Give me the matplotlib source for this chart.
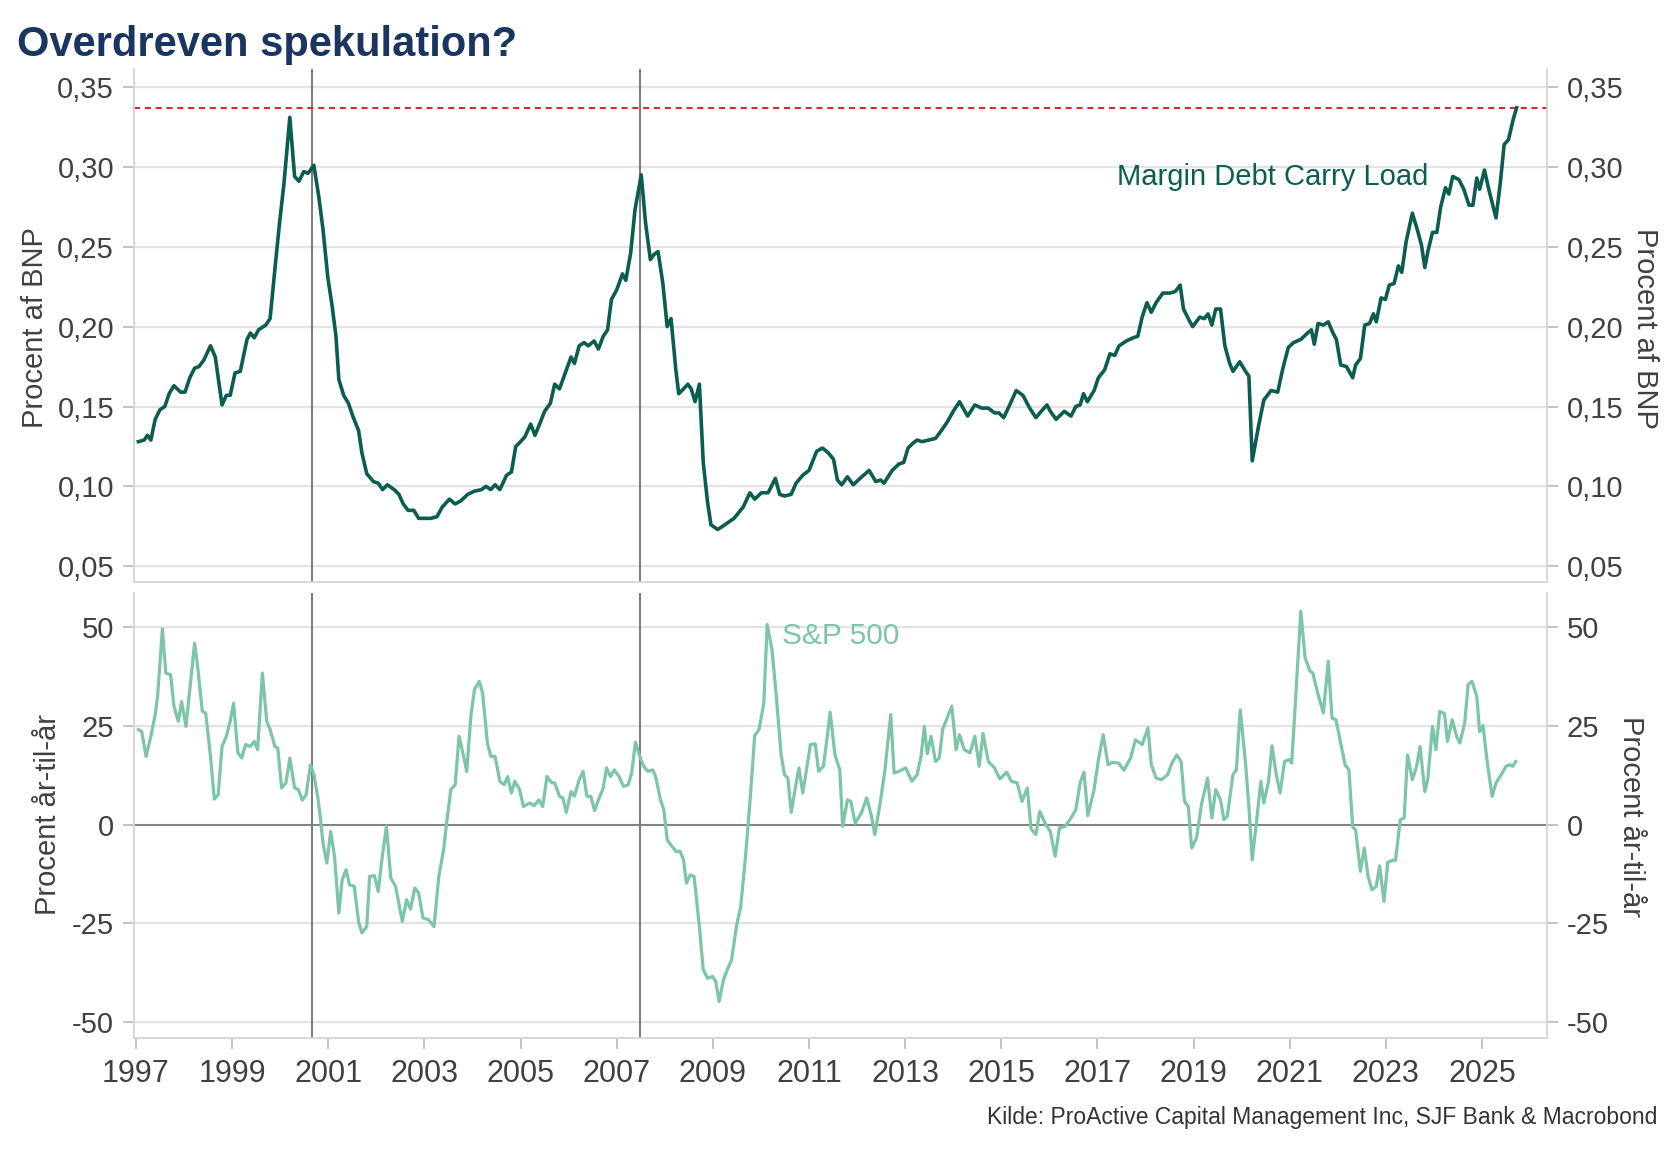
import matplotlib
matplotlib.use("Agg")
import matplotlib.pyplot as plt
from matplotlib.ticker import FuncFormatter

plt.rcParams['font.family'] = ['Liberation Sans', 'DejaVu Sans']
plt.rcParams['axes.unicode_minus'] = False

#==========================
# DATA
#==========================
margin_t = [1997.05, 1997.17, 1997.24, 1997.31, 1997.40, 1997.50, 1997.60, 1997.69, 1997.79, 1997.93,
            1998.02, 1998.12, 1998.22, 1998.31, 1998.41, 1998.55, 1998.65, 1998.79, 1998.88, 1998.96,
            1999.06, 1999.17, 1999.31, 1999.38, 1999.46, 1999.55, 1999.70, 1999.79, 1999.89, 1999.98,
            2000.08, 2000.20, 2000.30, 2000.39, 2000.49, 2000.58, 2000.70, 2000.80, 2000.89, 2000.99,
            2001.08, 2001.16, 2001.22, 2001.32, 2001.42, 2001.51, 2001.63, 2001.70, 2001.80, 2001.94,
            2002.04, 2002.13, 2002.23, 2002.37, 2002.47, 2002.56, 2002.66, 2002.78, 2002.88, 2002.99,
            2003.13, 2003.26, 2003.37, 2003.52, 2003.64, 2003.76, 2003.90, 2004.04, 2004.19, 2004.28,
            2004.38, 2004.47, 2004.57, 2004.71, 2004.81, 2004.90, 2005.00, 2005.09, 2005.21, 2005.30,
            2005.41, 2005.50, 2005.62, 2005.71, 2005.81, 2005.93, 2006.05, 2006.12, 2006.22, 2006.32,
            2006.41, 2006.53, 2006.62, 2006.72, 2006.81, 2006.89, 2007.00, 2007.12, 2007.19, 2007.29,
            2007.38, 2007.51, 2007.60, 2007.70, 2007.77, 2007.86, 2007.96, 2008.05, 2008.13, 2008.23,
            2008.29, 2008.39, 2008.48, 2008.55, 2008.63, 2008.72, 2008.80, 2008.89, 2008.96, 2009.10,
            2009.25, 2009.44, 2009.63, 2009.77, 2009.87, 2010.01, 2010.15, 2010.30, 2010.39, 2010.49,
            2010.63, 2010.73, 2010.87, 2011.00, 2011.16, 2011.28, 2011.40, 2011.51, 2011.59, 2011.68,
            2011.80, 2011.92, 2012.06, 2012.25, 2012.39, 2012.49, 2012.56, 2012.73, 2012.87, 2012.97,
            2013.06, 2013.16, 2013.25, 2013.35, 2013.49, 2013.63, 2013.73, 2013.87, 2014.00, 2014.13,
            2014.30, 2014.45, 2014.59, 2014.73, 2014.86, 2014.95, 2015.05, 2015.19, 2015.31, 2015.45,
            2015.59, 2015.72, 2015.83, 2015.95, 2016.02, 2016.14, 2016.31, 2016.45, 2016.55, 2016.64,
            2016.71, 2016.79, 2016.93, 2017.02, 2017.15, 2017.26, 2017.36, 2017.45, 2017.60, 2017.74,
            2017.84, 2017.93, 2018.03, 2018.12, 2018.22, 2018.36, 2018.51, 2018.62, 2018.72, 2018.79,
            2018.89, 2018.98, 2019.13, 2019.22, 2019.30, 2019.38, 2019.46, 2019.56, 2019.65, 2019.75,
            2019.82, 2019.96, 2020.08, 2020.15, 2020.22, 2020.34, 2020.46, 2020.61, 2020.75, 2020.85,
            2020.97, 2021.08, 2021.23, 2021.37, 2021.45, 2021.51, 2021.59, 2021.70, 2021.80, 2021.90,
            2021.97, 2022.06, 2022.18, 2022.31, 2022.37, 2022.47, 2022.56, 2022.66, 2022.74, 2022.80,
            2022.90, 2022.99, 2023.07, 2023.17, 2023.26, 2023.33, 2023.42, 2023.55, 2023.66, 2023.74,
            2023.81, 2023.88, 2023.97, 2024.06, 2024.14, 2024.24, 2024.31, 2024.39, 2024.52, 2024.62,
            2024.73, 2024.81, 2024.89, 2024.95, 2025.05, 2025.14, 2025.29, 2025.38, 2025.46, 2025.55,
            2025.65, 2025.72]
margin_v = [0.128, 0.129, 0.132, 0.129, 0.142, 0.148, 0.150, 0.158, 0.163, 0.159,
            0.159, 0.168, 0.174, 0.175, 0.179, 0.188, 0.181, 0.151, 0.157, 0.157,
            0.171, 0.172, 0.192, 0.196, 0.193, 0.198, 0.201, 0.205, 0.236, 0.263,
            0.290, 0.331, 0.294, 0.291, 0.297, 0.296, 0.301, 0.282, 0.261, 0.231,
            0.213, 0.194, 0.167, 0.157, 0.152, 0.144, 0.135, 0.121, 0.108, 0.103,
            0.102, 0.098, 0.101, 0.098, 0.095, 0.089, 0.085, 0.085, 0.080, 0.080,
            0.080, 0.081, 0.087, 0.092, 0.089, 0.091, 0.095, 0.097, 0.098, 0.100,
            0.098, 0.101, 0.098, 0.107, 0.109, 0.125, 0.128, 0.131, 0.139, 0.132,
            0.140, 0.147, 0.152, 0.164, 0.161, 0.171, 0.181, 0.177, 0.188, 0.190,
            0.188, 0.191, 0.186, 0.194, 0.198, 0.217, 0.223, 0.233, 0.229, 0.246,
            0.273, 0.295, 0.265, 0.242, 0.245, 0.247, 0.227, 0.200, 0.205, 0.173,
            0.158, 0.161, 0.164, 0.161, 0.153, 0.164, 0.115, 0.090, 0.076, 0.073,
            0.076, 0.080, 0.087, 0.096, 0.092, 0.096, 0.096, 0.105, 0.095, 0.094,
            0.095, 0.102, 0.107, 0.110, 0.122, 0.124, 0.121, 0.117, 0.104, 0.101,
            0.106, 0.101, 0.105, 0.110, 0.103, 0.104, 0.102, 0.110, 0.114, 0.115,
            0.124, 0.127, 0.129, 0.128, 0.129, 0.130, 0.134, 0.140, 0.147, 0.153,
            0.144, 0.151, 0.149, 0.149, 0.146, 0.146, 0.143, 0.152, 0.160, 0.157,
            0.149, 0.143, 0.147, 0.151, 0.147, 0.142, 0.147, 0.144, 0.150, 0.151,
            0.158, 0.153, 0.160, 0.168, 0.173, 0.183, 0.182, 0.188, 0.191, 0.193,
            0.194, 0.206, 0.215, 0.209, 0.215, 0.221, 0.221, 0.222, 0.226, 0.211,
            0.205, 0.200, 0.206, 0.205, 0.208, 0.201, 0.211, 0.211, 0.188, 0.177,
            0.172, 0.178, 0.172, 0.169, 0.116, 0.136, 0.154, 0.160, 0.159, 0.173,
            0.187, 0.190, 0.192, 0.196, 0.198, 0.189, 0.202, 0.201, 0.203, 0.196,
            0.192, 0.176, 0.175, 0.168, 0.176, 0.180, 0.201, 0.202, 0.208, 0.203,
            0.218, 0.217, 0.226, 0.227, 0.238, 0.234, 0.253, 0.271, 0.260, 0.251,
            0.237, 0.248, 0.259, 0.259, 0.275, 0.287, 0.283, 0.294, 0.292, 0.286,
            0.276, 0.276, 0.293, 0.286, 0.298, 0.286, 0.268, 0.290, 0.314, 0.317,
            0.330, 0.337]

spx_t = [1997.05, 1997.12, 1997.21, 1997.31, 1997.40, 1997.45, 1997.55, 1997.62, 1997.72, 1997.79,
         1997.88, 1997.95, 1998.04, 1998.12, 1998.22, 1998.29, 1998.38, 1998.45, 1998.55, 1998.63,
         1998.71, 1998.79, 1998.88, 1998.96, 1999.03, 1999.12, 1999.20, 1999.28, 1999.38, 1999.46,
         1999.53, 1999.63, 1999.72, 1999.79, 1999.89, 1999.95, 2000.03, 2000.12, 2000.20, 2000.30,
         2000.38, 2000.46, 2000.54, 2000.63, 2000.70, 2000.78, 2000.84, 2000.89, 2000.97, 2001.05,
         2001.13, 2001.22, 2001.29, 2001.37, 2001.44, 2001.54, 2001.63, 2001.70, 2001.80, 2001.86,
         2001.96, 2002.04, 2002.11, 2002.21, 2002.30, 2002.40, 2002.54, 2002.63, 2002.71, 2002.80,
         2002.88, 2002.97, 2003.09, 2003.20, 2003.30, 2003.40, 2003.47, 2003.55, 2003.64, 2003.72,
         2003.80, 2003.88, 2003.97, 2004.04, 2004.14, 2004.21, 2004.31, 2004.38, 2004.47, 2004.57,
         2004.66, 2004.73, 2004.81, 2004.88, 2004.98, 2005.06, 2005.19, 2005.28, 2005.38, 2005.46,
         2005.55, 2005.65, 2005.71, 2005.81, 2005.88, 2005.95, 2006.05, 2006.12, 2006.22, 2006.30,
         2006.38, 2006.46, 2006.54, 2006.62, 2006.72, 2006.79, 2006.87, 2006.95, 2007.05, 2007.14,
         2007.24, 2007.31, 2007.39, 2007.48, 2007.56, 2007.65, 2007.75, 2007.81, 2007.91, 2007.98,
         2008.05, 2008.15, 2008.24, 2008.32, 2008.39, 2008.45, 2008.53, 2008.61, 2008.72, 2008.80,
         2008.89, 2008.99, 2009.06, 2009.13, 2009.22, 2009.30, 2009.39, 2009.49, 2009.58, 2009.68,
         2009.77, 2009.87, 2009.96, 2010.06, 2010.13, 2010.23, 2010.32, 2010.42, 2010.49, 2010.56,
         2010.63, 2010.71, 2010.79, 2010.87, 2010.97, 2011.03, 2011.13, 2011.20, 2011.30, 2011.38,
         2011.44, 2011.54, 2011.64, 2011.70, 2011.80, 2011.87, 2011.96, 2012.09, 2012.20, 2012.30,
         2012.37, 2012.49, 2012.58, 2012.70, 2012.77, 2012.87, 2013.01, 2013.14, 2013.25, 2013.33,
         2013.40, 2013.46, 2013.54, 2013.63, 2013.71, 2013.78, 2013.90, 2013.97, 2014.06, 2014.13,
         2014.23, 2014.35, 2014.45, 2014.54, 2014.62, 2014.73, 2014.86, 2014.97, 2015.11, 2015.21,
         2015.33, 2015.43, 2015.54, 2015.62, 2015.72, 2015.80, 2015.91, 2016.02, 2016.12, 2016.21,
         2016.33, 2016.45, 2016.55, 2016.64, 2016.72, 2016.80, 2016.93, 2017.02, 2017.12, 2017.22,
         2017.31, 2017.44, 2017.55, 2017.69, 2017.79, 2017.93, 2018.05, 2018.12, 2018.22, 2018.33,
         2018.46, 2018.55, 2018.65, 2018.74, 2018.81, 2018.89, 2018.96, 2019.06, 2019.17, 2019.29,
         2019.38, 2019.46, 2019.56, 2019.63, 2019.70, 2019.82, 2019.89, 2019.97, 2020.08, 2020.15,
         2020.22, 2020.32, 2020.40, 2020.46, 2020.56, 2020.63, 2020.72, 2020.80, 2020.89, 2020.99,
         2021.04, 2021.10, 2021.23, 2021.32, 2021.42, 2021.48, 2021.58, 2021.70, 2021.80, 2021.88,
         2021.96, 2022.06, 2022.15, 2022.23, 2022.31, 2022.37, 2022.47, 2022.55, 2022.63, 2022.71,
         2022.80, 2022.87, 2022.96, 2023.04, 2023.14, 2023.20, 2023.30, 2023.38, 2023.45, 2023.55,
         2023.64, 2023.71, 2023.81, 2023.87, 2023.97, 2024.04, 2024.12, 2024.22, 2024.28, 2024.38,
         2024.47, 2024.54, 2024.64, 2024.71, 2024.79, 2024.89, 2024.95, 2025.02, 2025.11, 2025.21,
         2025.29, 2025.40, 2025.50, 2025.57, 2025.64, 2025.70]
spx_v = [24.1, 23.6, 17.3, 22.4, 27.9, 32.5, 49.6, 38.4, 38.0, 30.0,
         26.2, 31.2, 24.9, 34.2, 46.0, 39.3, 28.7, 28.3, 17.3, 6.5,
         7.6, 19.8, 22.4, 26.2, 30.8, 18.2, 16.9, 20.3, 19.8, 21.1,
         19.0, 38.4, 26.2, 24.1, 19.8, 19.4, 9.3, 10.6, 16.9, 9.3,
         8.9, 6.2, 7.6, 15.2, 12.7, 7.2, 1.3, -4.6, -9.7, -1.7,
         -8.0, -22.4, -13.9, -11.4, -15.2, -15.6, -24.5, -27.4, -25.8, -13.1,
         -12.9, -16.9, -9.3, -0.4, -13.5, -15.6, -24.5, -19.0, -21.4, -16.0,
         -17.3, -23.6, -24.1, -25.8, -13.1, -6.3, 1.3, 8.9, 10.1, 22.4,
         18.2, 13.5, 27.9, 34.2, 36.3, 33.4, 20.7, 17.3, 17.3, 11.0,
         10.1, 12.2, 8.0, 11.0, 8.9, 4.6, 5.5, 4.8, 6.3, 4.6,
         12.2, 10.6, 10.6, 7.2, 6.8, 3.1, 8.4, 7.2, 11.4, 13.5,
         7.2, 7.2, 3.6, 6.3, 9.3, 14.4, 12.2, 13.9, 12.2, 9.7,
         10.1, 13.1, 20.9, 17.3, 14.8, 13.5, 13.9, 12.2, 6.3, 3.8,
         -3.8, -5.5, -6.8, -6.8, -8.9, -14.8, -12.7, -13.1, -25.8, -36.7,
         -38.9, -38.4, -39.7, -44.8, -39.3, -36.7, -34.2, -25.8, -20.7, -8.0,
         5.5, 22.6, 24.1, 30.8, 50.7, 44.3, 32.5, 17.7, 12.7, 11.8,
         3.1, 8.9, 14.4, 8.0, 15.6, 20.3, 20.5, 13.5, 14.8, 22.4,
         28.5, 17.7, 13.9, -0.4, 6.3, 5.9, 0.4, 3.0, 6.8, 2.1,
         -2.5, 6.3, 13.9, 27.9, 13.1, 13.5, 14.4, 11.0, 12.7, 17.3,
         24.9, 18.0, 22.4, 16.0, 16.9, 24.1, 27.9, 30.0, 19.0, 22.8,
         19.0, 18.2, 22.4, 14.8, 23.1, 16.0, 14.4, 11.6, 13.3, 11.0,
         10.6, 5.9, 9.3, -1.1, -2.5, 3.4, 0.4, -1.7, -8.0, -0.8,
         -0.4, 1.7, 3.8, 10.6, 13.3, 2.3, 8.9, 16.5, 22.8, 15.2,
         15.8, 15.6, 13.8, 16.9, 21.5, 20.3, 24.5, 15.2, 11.8, 11.4,
         12.7, 15.6, 17.7, 16.0, 5.9, 4.6, -5.9, -3.4, 5.5, 11.8,
         1.7, 8.9, 6.3, 1.3, 2.1, 12.7, 13.9, 29.1, 15.6, 4.6,
         -8.9, 2.1, 11.0, 5.5, 11.0, 20.0, 12.7, 8.0, 16.0, 16.5,
         15.6, 27.4, 54.1, 42.2, 38.9, 38.4, 33.4, 28.3, 41.4, 27.0,
         26.6, 20.7, 15.2, 13.9, -0.6, -1.3, -11.8, -5.9, -13.1, -16.5,
         -15.6, -10.4, -19.4, -9.5, -9.0, -9.0, 1.3, 1.7, 17.7, 11.4,
         14.8, 19.8, 8.4, 11.4, 24.9, 19.0, 28.7, 28.1, 21.1, 26.6,
         22.4, 20.7, 25.8, 35.5, 36.3, 32.5, 23.6, 25.1, 15.6, 7.2,
         10.6, 12.7, 14.8, 15.2, 14.8, 16.0]

event_years = [2000.67, 2007.48]   # market tops marked by vertical lines
top_ticks = [0.05, 0.10, 0.15, 0.20, 0.25, 0.30, 0.35]
bot_ticks = [-50, -25, 0, 25, 50]
year_ticks = list(range(1997, 2026, 2))

#==========================
# STYLE
#==========================
DARK = '#0b5d4f'
LIGHT = '#7cc5a5'
NAVY = '#1b3561'
TXT = '#404040'
GRID = '#e3e3e3'
SPINE = '#d4d4d4'
XLIM = (1996.95, 2026.35)

fig = plt.figure(figsize=(16.8, 11.55), dpi=100)
ax1 = fig.add_axes([0.0795, 0.4963, 0.8413, 0.4443])
ax2 = fig.add_axes([0.0795, 0.1010, 0.8413, 0.3853])


def style(ax, ticks, fmt, ylim, ylabel, lab_y):
    ax.set_xlim(XLIM)
    ax.set_ylim(ylim)
    ax.set_yticks(ticks)
    ax.yaxis.set_major_formatter(FuncFormatter(fmt))
    ax.grid(True, axis='y', color=GRID, lw=1.6)
    ax.set_axisbelow(True)
    ax.spines['top'].set_visible(False)
    for s in ['left', 'right', 'bottom']:
        ax.spines[s].set_color(SPINE)
        ax.spines[s].set_linewidth(1.3)
    ax.tick_params(axis='y', which='both', left=True, right=True, labelleft=True, labelright=True,
                   length=8, width=1.2, color='#b8b8b8', labelsize=21, labelcolor=TXT, pad=6)
    for v in event_years:
        ax.axvline(v, color='#6e6e6e', lw=1.3, zorder=1)
    fig.text(lab_y[0], lab_y[1], ylabel, rotation=90, ha='center', va='center',
             fontsize=21, color=TXT)
    fig.text(lab_y[2], lab_y[3], ylabel, rotation=270, ha='center', va='center',
             fontsize=21, color=TXT)


style(ax1, top_ticks, lambda v, p: f"{v:.2f}".replace('.', ','), (0.0403, 0.3615),
      'Procent af BNP', (0.0208, 0.716, 0.979, 0.716))
style(ax2, bot_ticks, lambda v, p: f"{v:.0f}", (-54.1, 58.6),
      'Procent år-til-år', (0.0286, 0.295, 0.971, 0.293))

ax1.set_xticks([])
ax1.plot(margin_t, margin_v, color=DARK, lw=2.6, zorder=3)
ax1.axhline(margin_v[-1], color='#e3262b', lw=1.5, dashes=(2.9, 2.3), zorder=2)
ax1.text(2023.88, 0.2936, 'Margin Debt Carry Load', color=DARK, fontsize=21,
         ha='right', va='center')

ax2.axhline(0, color='#7a7a7a', lw=1.3, zorder=2)
ax2.plot(spx_t, spx_v, color=LIGHT, lw=2.3, zorder=3)
ax2.text(2010.44, 47.9, 'S&P 500', color=LIGHT, fontsize=21.5, ha='left', va='center')
ax2.set_xticks(year_ticks)
ax2.set_xticklabels([str(y) for y in year_ticks])
ax2.tick_params(axis='x', length=8, width=1.2, color='#b8b8b8', labelsize=22,
                labelcolor=TXT, pad=7)

fig.text(0.0101, 0.9515, 'Overdreven spekulation?', fontsize=30, fontweight='bold',
         color=NAVY, ha='left', va='baseline')
fig.text(0.9863, 0.0329, 'Kilde: ProActive Capital Management Inc, SJF Bank & Macrobond',
         fontsize=16.5, color='#333333', ha='right', va='center')

fig.savefig('out.png', dpi=100)
